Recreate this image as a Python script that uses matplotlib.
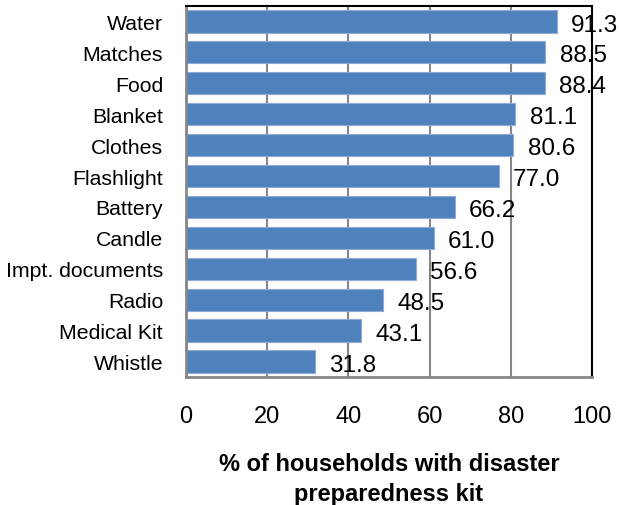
import matplotlib.pyplot as plt

plt.rcParams['font.family'] = ['Liberation Sans', 'DejaVu Sans']

items = ["Water", "Matches", "Food", "Blanket", "Clothes", "Flashlight",
         "Battery", "Candle", "Impt. documents", "Radio", "Medical Kit", "Whistle"]
percent = [91.3, 88.5, 88.4, 81.1, 80.6, 77.0, 66.2, 61.0, 56.6, 48.5, 43.1, 31.8]
xticks = [0, 20, 40, 60, 80, 100]

fig = plt.figure(figsize=(6.19, 5.06), dpi=100)
ax = fig.add_axes([0.3005, 0.253, 0.656, 0.7332])

ypos = list(range(len(items)))
ax.barh(ypos, percent, height=0.72, color='#4F81BD', edgecolor='#8EAADB',
        linewidth=0.8, zorder=2)

for y, v in zip(ypos, percent):
    ax.text(v + 3.5, y + 0.1, f"{v:.1f}", va='center', ha='left',
            fontsize=17.5, zorder=3)

ax.set_xlim(0, 100)
ax.set_ylim(len(items) - 0.5, -0.5)
ax.set_yticks(ypos)
ax.set_yticklabels(items, fontsize=15.3)
ax.set_xticks(xticks)
ax.set_xticklabels([str(t) for t in xticks], fontsize=17)
ax.tick_params(axis='both', length=0)
ax.tick_params(axis='x', pad=20)
ax.tick_params(axis='y', pad=16.5)

ax.grid(True, axis='x', color='#868686', linewidth=1.5, zorder=1)
ax.set_axisbelow(True)
for side in ['left', 'bottom']:
    ax.spines[side].set_color('#868686')
    ax.spines[side].set_linewidth(2)
for side in ['top', 'right']:
    ax.spines[side].set_color('black')
    ax.spines[side].set_linewidth(1.5)

ax.set_xlabel("% of households with disaster\npreparedness kit",
              fontsize=17, fontweight='bold', labelpad=18, linespacing=1.4)

fig.savefig("out.png", dpi=100)
